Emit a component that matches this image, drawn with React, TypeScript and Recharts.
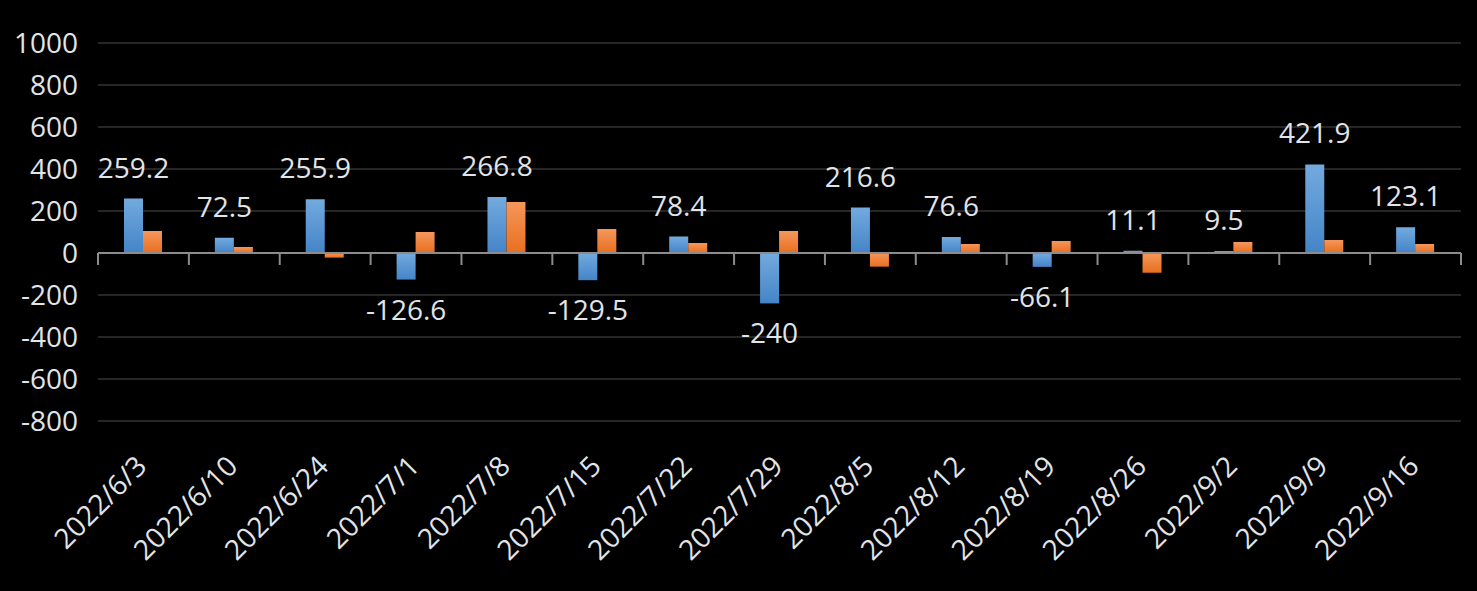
import React from "react";
import { BarChart, Bar, XAxis, YAxis, CartesianGrid, ReferenceLine, LabelList } from "recharts";

const categories = [
  "2022/6/3", "2022/6/10", "2022/6/24", "2022/7/1", "2022/7/8", "2022/7/15", "2022/7/22", "2022/7/29",
  "2022/8/5", "2022/8/12", "2022/8/19", "2022/8/26", "2022/9/2", "2022/9/9", "2022/9/16",
];
const blueValues = [259.2, 72.5, 255.9, -126.6, 266.8, -129.5, 78.4, -240, 216.6, 76.6, -66.1, 11.1, 9.5, 421.9, 123.1];
const orangeValues = [105, 28, -22, 100, 243, 114, 48, 105, -65, 43, 57, -94, 52, 62, 43];
const yTicks = [-800, -600, -400, -200, 0, 200, 400, 600, 800, 1000];

const data = categories.map((c, i) => ({ name: c, blue: blueValues[i], orange: orangeValues[i] }));

const FONT = "'Open Sans', 'Noto Sans', sans-serif";
const TEXT = "#e1e4e8";

const XTick = (props: any) => {
  const { x, y, payload } = props;
  const px = x + 5;
  const py = y + 47;
  return (
    <text x={px} y={py} transform={`rotate(-45, ${px}, ${py})`} textAnchor="end" fill={TEXT} fontSize={28} fontFamily={FONT}>
      {payload.value}
    </text>
  );
};

const BlueLabel = (props: any) => {
  const vb = props.viewBox || {};
  const x = props.x ?? vb.x;
  const y = props.y ?? vb.y;
  const width = props.width ?? vb.width;
  const height = props.height ?? vb.height;
  const value = Number(props.value);
  const top = Math.min(y, y + height);
  const bottom = Math.max(y, y + height);
  const cx = x + width / 2;
  const ty = value >= 0 ? top - 21 : bottom + 40;
  return (
    <text x={cx} y={ty} textAnchor="middle" fill={TEXT} fontSize={28} fontFamily={FONT}>
      {String(props.value)}
    </text>
  );
};

const ZeroAxis = (props: any) => {
  const { x1, y1, x2 } = props;
  const n = categories.length;
  const step = (x2 - x1) / n;
  const ticks = [];
  for (let i = 0; i <= n; i++) {
    const tx = x1 + step * i;
    ticks.push(<line key={i} x1={tx} y1={y1} x2={tx} y2={y1 + 12} stroke="#8c8c8c" strokeWidth={2} />);
  }
  return (
    <g>
      <line x1={x1} y1={y1} x2={x2} y2={y1} stroke="#8c8c8c" strokeWidth={2} />
      {ticks}
    </g>
  );
};

export default function App() {
  return (
    <div style={{ position: "absolute", left: 0, top: 0, width: 1477, height: 591, background: "#000" }}>
      <BarChart
        width={1477}
        height={591}
        data={data}
        margin={{ top: 43, right: 16, left: 0, bottom: 0 }}
        barCategoryGap={26}
        barGap={0}
      >
        <defs>
          <linearGradient id="blueGrad" x1="0" y1="0" x2="0" y2="1">
            <stop offset="0%" stopColor="#73aadf" />
            <stop offset="100%" stopColor="#4484c7" />
          </linearGradient>
          <linearGradient id="orangeGrad" x1="0" y1="0" x2="0" y2="1">
            <stop offset="0%" stopColor="#f5975c" />
            <stop offset="100%" stopColor="#e86f1f" />
          </linearGradient>
        </defs>
        <CartesianGrid horizontal vertical={false} stroke="#262626" strokeWidth={2} />
        <XAxis
          dataKey="name"
          axisLine={false}
          tickLine={false}
          tickSize={0}
          tickMargin={0}
          height={170}
          interval={0}
          tick={<XTick />}
        />
        <YAxis
          domain={[-800, 1000]}
          ticks={yTicks}
          width={98}
          axisLine={false}
          tickLine={false}
          tickSize={0}
          tickMargin={20}
          tick={{ fill: TEXT, fontSize: 28, fontFamily: FONT }}
          allowDataOverflow
        />
        <Bar dataKey="blue" fill="url(#blueGrad)" isAnimationActive={false}>
          <LabelList dataKey="blue" content={<BlueLabel />} />
        </Bar>
        <Bar dataKey="orange" fill="url(#orangeGrad)" isAnimationActive={false} />
        <ReferenceLine y={0} shape={(p: any) => <ZeroAxis {...p} />} />
      </BarChart>
    </div>
  );
}
